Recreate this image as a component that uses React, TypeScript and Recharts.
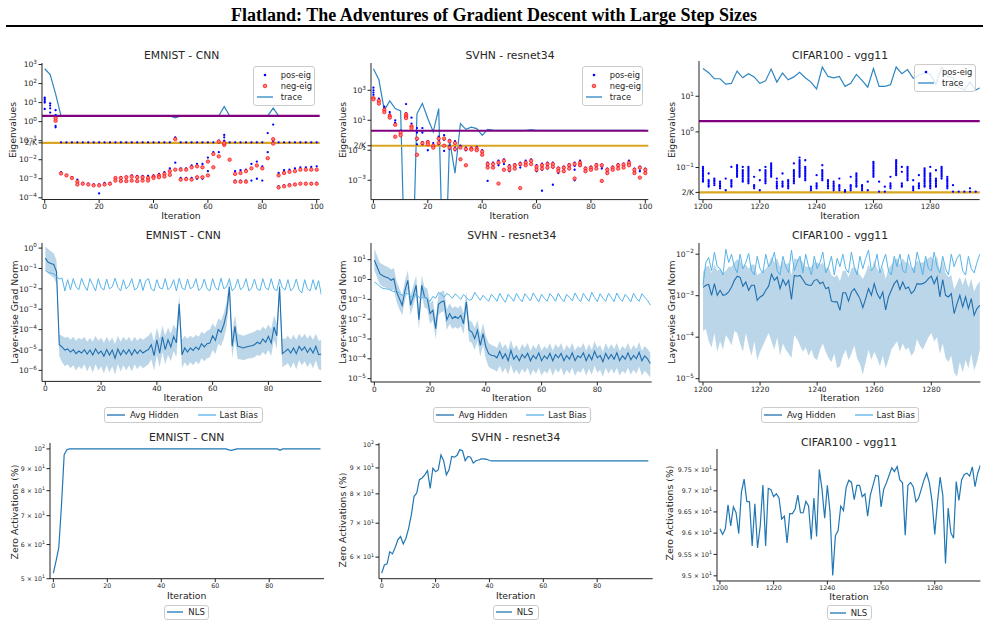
import React from 'react';
import { ComposedChart, Scatter, Line, Area, XAxis, YAxis, ReferenceLine, Legend } from 'recharts';

const FONT = '"DejaVu Sans", sans-serif';
const INK = '#262626';
const AXIS = '#222';
const TRACE = '#2e86c1';
const HID = '#1f6fb0';
const BIAS = '#56b4e9';
const NLS = '#1f77b4';

// ---------------- Top row: eigenvalues ----------------
const emnistEigIters = [0,2,4,6,8,10,12,14,16,18,20,22,24,26,28,30,32,34,36,38,40,42,44,46,48,50,52,54,56,58,60,62,64,66,68,70,72,74,76,78,80,82,84,86,88,90,92,94,96,98,100];
const emnistPosEig = [
  [18,15,12,10,4.6],[9,7,5,3],[4,2.2,0.6,0.5],[0.082,0.0022,0.0019],[0.082,0.0016],[0.082,0.0012],[0.082,0.0009,0.0006],[0.082,0.0006],[0.082,0.00055],[0.082,0.0005],
  [0.082,0.0005,0.00017],[0.082,0.0006],[0.082,0.0006],[0.082,0.0011,0.0008],[0.082,0.0012],[0.082,0.0013,0.0008],[0.082,0.0015,0.0008],[0.082,0.0014,0.0008],[0.082,0.0014,0.0009],[0.082,0.0014],
  [0.082,0.0015],[0.082,0.0018],[0.082,0.0022],[0.082,0.0035],[0.15,0.13,0.007],[0.082,0.0035,0.0011],[0.082,0.0035,0.0011],[0.082,0.005,0.0011],[0.082,0.006,0.001],[0.082,0.006,0.001],
  [0.082,0.013,0.0025],[0.082,0.025],[0.1,0.082,0.025],[0.2,0.15,0.1,0.09],[0.082],[0.082,0.0025,0.0008],[0.082,0.0028,0.0008],[0.082,0.003,0.0008],[0.082,0.006,0.0008],[0.082,0.008,0.001],
  [0.082,0.0045,0.0008],[0.25,0.025],[0.7,0.12,0.1,0.082],[0.082,0.002,0.0004],[0.082,0.0028,0.00045],[0.082,0.003,0.0005],[0.082,0.0035,0.0005],[0.082,0.004,0.00055],[0.082,0.004,0.00055],[0.082,0.0042,0.00058],
  [0.082,0.0045,0.0006],
];
const emnistNegEig = [
  [],[],[1.1,1.5],[0.0019],[0.0015],[0.0011],[0.0007,0.0005],[0.00055],[0.0005],[0.00045],
  [0.00045],[0.0005],[0.00055],[0.0011,0.0008],[0.0011,0.00075],[0.0012,0.00075],[0.0013,0.0008],[0.0012,0.00075],[0.0012,0.0008],[0.0011,0.0008],
  [0.0013,0.0011],[0.0015,0.0012],[0.0018,0.0013],[0.0025,0.0016],[0.12,0.003],[0.003,0.0009],[0.003,0.00095],[0.004,0.0009],[0.0045,0.0012],[0.004,0.0012],
  [0.008,0.0015],[0.02,0.004],[0.09,0.015],[0.06,0.075],[0.01],[0.0018,0.0007],[0.002,0.0007],[0.0025,0.0007],[0.0035],[0.005],
  [0.0035],[0.012],[0.12,0.07],[0.0015,0.00035],[0.002,0.0004],[0.0023,0.00045],[0.0025,0.0005],[0.003,0.00055],[0.003,0.00055],[0.003,0.00055],
  [0.003,0.00055],
];
const emnistTrace = [600,300,29,2,2,2,2,2,2,2, 2,2,2,2,2,2,2,2,2,2, 2,2,2,2,1.6,2,2,2,2,2, 2,2,2,6.3,2,2,2,2,2,2, 2,2,5.1,2,2,2,2,2,2,2, 2];

const svhnEigIters = emnistEigIters;
const svhnPosEig = [
  [1500,1000,700,500],[280,200,150],[80,60,40],[35,25,20],[10,7,6],[2,1.5,1],[120,30,20,15],[15,6,4,3],[3,1.5,0.5,0.25],[3,1.5,0.35,0.25],
  [0.4,0.3,0.1],[0.3,0.15],[0.8,0.5,0.25],[1,0.5,0.2,0.09],[0.5,0.2,0.12],[0.4,0.15,0.1],[0.2],[0.15,0.1],[0.15,0.12],[0.17,0.1],
  [0.1,0.05],[0.015,0.011,0.008,0.0009],[0.015,0.011,0.007],[0.02,0.014,0.01],[0.025,0.018,0.012],[0.01,0.006,0.004],[0.012,0.009,0.006],[0.015,0.01,0.007],[0.02,0.014,0.01],[0.025,0.018,0.012],
  [0.01,0.006,0.004],[0.013,0.008,0.005,0.0002],[0.015,0.01,0.006],[0.015,0.01,0.007,0.0005],[0.007,0.005,0.003],[0.008,0.006,0.004],[0.012,0.009,0.006],[0.015,0.009,0.005,0.001],[0.02,0.013,0.009],[0.007,0.005,0.004],
  [0.008,0.006,0.005],[0.012,0.009,0.006],[0.011,0.008,0.006],[0.006,0.004,0.003],[0.008,0.006,0.005],[0.012,0.009,0.006],[0.013,0.01,0.007],[0.02,0.014,0.01],[0.006,0.004,0.003],[0.008,0.006,0.004],
  [0.006,0.004,0.003],
];
const svhnNegEig = [
  [300,250],[200,130],[50,35],[20,15],[0.8,5],[1.5,1.0],[25,18,14],[4,3],[0.6,0.05],[0.3],
  [0.35,0.25],[0.2,0.15],[0.6,0.3],[0.6,0.2],[0.4,0.15],[0.3,0.12],[0.15,0.025],[0.12,0.01],[0.13,0.11],[0.13,0.1],
  [0.08,0.05],[0.012,0.007],[0.012,0.007],[0.015,0.0006],[0.02,0.005],[0.008,0.005],[0.01,0.006],[0.012,0.0003],[0.015,0.01],[0.02,0.012],
  [0.008,0.005],[0.01,0.006],[0.012,0.007],[0.012,0.008],[0.006,0.004],[0.007,0.004],[0.01,0.006],[0.012,0.0013],[0.015,0.01],[0.006,0.004],
  [0.007,0.005],[0.01,0.006],[0.01,0.0009],[0.005,0.003],[0.007,0.005],[0.01,0.006],[0.011,0.007],[0.015,0.01],[0.005,0.003],[0.007,0.0015],
  [0.005,0.003],
];
// 1e-12 marks a non-positive trace value, clipped below the log axis
const svhnTrace = [27000,5000,47,195,60,42,1e-12,1e-12,27,130, 13,1.7,60,1e-12,0.5,0.003,6,2.5,3.5,2.8, 1,2.5,2.2,2.1,2.1,2.1,2.1,2.1,2.1,2.4, 2.1,2.1,2.1,2.1,2.1,2.1,2.1,2.1,2.1,2.1, 2.1,2.1,2.1,2.1,2.1,2.1,2.1,2.1,2.1,2.1, 2.1];

const cifarEigIters = [1200,1202,1204,1206,1208,1210,1212,1214,1216,1218,1220,1222,1224,1226,1228,1230,1232,1234,1236,1238,1240,1242,1244,1246,1248,1250,1252,1254,1256,1258,1260,1262,1264,1266,1268,1270,1272,1274,1276,1278,1280,1282,1284,1286,1288,1290,1292,1294,1296];
const cifarPosEig = [
  [0.104,0.094,0.084,0.076,0.068,0.061,0.055,0.049,0.044,0.04],[0.068,0.044,0.04,0.036,0.032,0.029],[0.049,0.044,0.04,0.036,0.032],[0.04,0.036,0.032,0.029,0.026],[0.049,0.023],
  [0.104,0.044,0.04,0.036,0.032,0.029],[0.116,0.104,0.094,0.084,0.076,0.068,0.061,0.055],[0.104,0.084,0.076,0.068,0.061,0.055,0.049,0.044,0.04],[0.104,0.094,0.084,0.076,0.068,0.061,0.055,0.049,0.044,0.04,0.036],[0.055,0.032,0.029,0.026],
  [0.084,0.044,0.023],[0.104,0.084,0.076,0.068,0.061,0.055,0.049,0.044,0.04,0.036],[0.13,0.116,0.104,0.094,0.084,0.076,0.068,0.061,0.055],[0.049,0.04,0.036,0.032,0.029,0.026],[0.068,0.04,0.036,0.032,0.029],
  [0.044,0.04,0.036,0.032,0.029,0.026],[0.13,0.084,0.076,0.068,0.061,0.055,0.049,0.044,0.04,0.036],[0.19,0.16,0.144,0.13,0.116,0.104,0.094,0.084,0.076,0.068,0.061,0.055],[0.16,0.104,0.094,0.084,0.076,0.068,0.061,0.055,0.049,0.044],[0.029,0.026,0.023],
  [0.061,0.036,0.032,0.029,0.026],[0.116,0.084,0.076,0.068,0.061,0.055,0.049,0.044],[0.044,0.04,0.036,0.032,0.029,0.026],[0.04,0.036,0.032,0.029,0.026,0.023],[0.049,0.032,0.029,0.026,0.023],
  [0.023,0.021],[0.055,0.032,0.029,0.026,0.023],[0.068,0.061,0.055,0.049,0.044,0.04,0.036,0.032,0.029],[0.032,0.029,0.026,0.023],[0.04,0.023],
  [0.144,0.13,0.116,0.104,0.094,0.084,0.076,0.068,0.061,0.055],[0.04,0.021],[0.029,0.021],[0.055,0.036,0.032,0.029,0.026],[0.16,0.144,0.13,0.116,0.104,0.094,0.084,0.076,0.068,0.061],
  [0.104,0.076,0.036,0.032,0.029],[0.104,0.094,0.084,0.076,0.068,0.061,0.055,0.049,0.044],[0.044,0.029,0.026,0.023],[0.061,0.036,0.032,0.029,0.026],[0.094,0.084,0.076,0.068,0.061,0.055,0.049,0.044,0.04,0.036,0.032,0.029],
  [0.104,0.068,0.061,0.055,0.049,0.044,0.04,0.036,0.032,0.029,0.026],[0.084,0.049,0.044,0.04,0.036,0.032,0.029],[0.104,0.094,0.084,0.076,0.068,0.061,0.055,0.049],[0.055,0.049,0.044,0.04,0.036,0.032,0.029,0.026],[0.032,0.021],
  [0.021],[0.021],[0.026,0.021],[0.021],
];
const cifarTraceIters = [1200,1202,1204,1206,1208,1210,1212,1214,1216,1218,1220,1222,1224,1226,1228,1230,1232,1234,1236,1238,1240,1242,1244,1246,1248,1250,1252,1254,1256,1258,1260,1262,1264,1266,1268,1270,1272,1274,1276,1278,1280,1282,1284,1286,1288,1290,1292,1294,1296,1298];
const cifarTrace = [60,46,31,31,22,23,51,33,43,35, 23,27,58,25,45,29,35,47,33,25, 16,66,36,33,36,19,23,41,28,18, 60,19,19,21,66,43,56,32,39,45, 42,22,66,36,33,18,15,25,15,18];

// ---------------- Middle row: layer-wise grad norm (log10 of values) ----------------
const emnistHiddenExp = [-0.49,-0.70,-0.76,-0.80,-1.15,-4.74,-4.85,-5.00,-4.95,-5.10,-4.98,-5.18,-5.05,-5.15,-4.98,-5.20,-5.00,-5.25,-4.95,-5.18,-5.05,-5.30,-4.98,-5.25,-5.00,-5.40,-4.95,-5.25,-5.00,-5.20,-4.98,-5.25,-4.98,-5.18,-5.00,-5.15,-5.05,-4.98,-4.74,-5.28,-4.50,-5.15,-4.36,-4.98,-4.50,-4.85,-4.33,-4.65,-2.73,-5.23,-4.90,-5.10,-4.90,-5.02,-4.85,-4.98,-4.69,-4.85,-4.69,-4.66,-4.30,-4.53,-4.00,-4.13,-3.76,-3.19,-1.90,-4.82,-3.84,-4.82,-4.85,-4.90,-4.85,-4.82,-4.79,-4.74,-4.62,-4.69,-4.46,-4.62,-4.33,-4.66,-3.87,-4.30,-1.90,-5.18,-5.07,-4.95,-5.15,-4.90,-5.18,-4.82,-5.02,-4.85,-5.12,-4.90,-5.15,-4.82,-5.23,-5.20];
const emnistHiddenHiExp = [0.08,-0.05,-0.15,-0.25,-0.6,-4.25,-4.3,-4.4,-4.35,-4.5,-4.35,-4.55,-4.4,-4.5,-4.35,-4.6,-4.4,-4.6,-4.3,-4.55,-4.4,-4.65,-4.35,-4.6,-4.4,-4.7,-4.3,-4.6,-4.35,-4.55,-4.35,-4.6,-4.35,-4.55,-4.4,-4.5,-4.4,-4.3,-4.1,-4.6,-3.9,-4.45,-3.8,-4.3,-3.9,-4.2,-3.75,-4.0,-2.3,-4.5,-4.3,-4.45,-4.3,-4.4,-4.25,-4.35,-4.1,-4.2,-4.05,-4.0,-3.7,-3.9,-3.45,-3.55,-3.2,-2.65,-1.5,-4.1,-3.3,-4.2,-4.25,-4.3,-4.25,-4.2,-4.15,-4.1,-4.0,-4.05,-3.85,-4.0,-3.75,-4.0,-3.3,-3.7,-1.5,-4.45,-4.45,-4.3,-4.5,-4.25,-4.5,-4.2,-4.4,-4.2,-4.45,-4.25,-4.5,-4.2,-4.55,-4.5];
const emnistHiddenLoExp = [-1.05,-1.25,-1.35,-1.45,-1.75,-5.3,-5.6,-5.8,-5.7,-5.9,-5.75,-6.0,-5.8,-5.95,-5.7,-6.05,-5.75,-6.1,-5.7,-6.0,-5.8,-6.15,-5.75,-6.1,-5.8,-6.2,-5.7,-6.05,-5.75,-6.0,-5.75,-6.05,-5.7,-5.95,-5.75,-5.9,-5.8,-5.7,-5.45,-6.0,-5.25,-5.85,-5.1,-5.7,-5.25,-5.55,-5.05,-5.35,-3.3,-5.9,-5.6,-5.8,-5.6,-5.75,-5.55,-5.7,-5.4,-5.55,-5.4,-5.35,-5.0,-5.2,-4.7,-4.8,-4.45,-3.85,-2.5,-5.4,-4.5,-5.45,-5.45,-5.5,-5.45,-5.4,-5.4,-5.35,-5.25,-5.3,-5.1,-5.25,-5.0,-5.3,-4.5,-4.95,-2.5,-5.85,-5.75,-5.65,-5.9,-5.6,-5.95,-5.5,-5.75,-5.55,-5.85,-5.6,-5.9,-5.5,-5.95,-6.0];
const emnistBiasExp = [-1.1,-1.19,-1.23,-1.26,-1.39,-1.52,-1.47,-2.1,-1.55,-2.05,-1.5,-1.9,-2.05,-1.48,-1.85,-2.08,-1.5,-1.8,-2.1,-1.5,-1.95,-2.05,-1.52,-2.0,-1.9,-1.48,-1.92,-2.1,-1.55,-2.0,-1.85,-1.5,-2.05,-1.95,-1.52,-2.08,-1.6,-1.5,-2.0,-2.1,-1.55,-1.95,-2.0,-1.5,-2.05,-1.9,-1.55,-2.1,-1.48,-1.95,-2.05,-1.52,-2.0,-1.9,-1.5,-2.08,-1.95,-1.52,-2.0,-2.1,-1.5,-1.95,-2.05,-1.48,-2.0,-1.9,-1.5,-2.1,-1.95,-1.52,-2.05,-1.9,-1.5,-2.1,-1.95,-1.52,-2.0,-2.08,-1.5,-1.95,-2.05,-1.5,-2.0,-2.1,-1.52,-1.95,-2.05,-1.55,-2.1,-1.95,-1.52,-2.05,-2.2,-1.55,-2.0,-2.1,-1.55,-2.05,-1.6,-2.3];

const svhnHiddenExp = [0.97,0.63,0.29,0.19,0.13,0.08,-0.04,0.04,-0.63,-0.97,-1.3,-0.55,-0.04,-1.3,-0.8,-0.29,-2.03,-0.29,-0.88,-0.97,-1.72,-1.55,-2.48,-1.25,-1.13,-1.08,-2.03,-1.72,-1.97,-1.86,-1.97,-1.81,-2.23,-1.13,-2.56,-2.65,-2.98,-2.56,-3.32,-2.73,-3.4,-3.74,-3.82,-3.85,-3.95,-3.62,-3.98,-3.75,-4.1,-3.57,-4.02,-3.83,-4.1,-3.78,-3.95,-3.72,-4.1,-3.83,-4.0,-3.7,-4.1,-3.85,-4.0,-3.73,-4.1,-3.78,-3.95,-3.73,-4.1,-3.83,-4.02,-3.7,-4.1,-3.85,-3.95,-3.7,-4.1,-3.78,-4.05,-3.62,-3.95,-3.83,-4.15,-3.73,-4.0,-3.78,-4.02,-3.7,-4.1,-3.85,-4.02,-3.7,-4.05,-3.83,-4.0,-3.67,-4.1,-3.85,-4.0,-4.24];
const svhnHiddenHiExp = [1.55,1.2,0.85,0.75,0.68,0.62,0.5,0.58,-0.1,-0.45,-0.8,-0.05,0.45,-0.8,-0.3,0.2,-1.5,0.2,-0.38,-0.45,-1.2,-1.05,-1.95,-0.72,-0.6,-0.55,-1.5,-1.2,-1.45,-1.35,-1.45,-1.3,-1.7,-0.6,-2.05,-2.15,-2.45,-2.05,-2.8,-2.2,-2.85,-3.2,-3.3,-3.35,-3.45,-3.1,-3.45,-3.25,-3.55,-3.05,-3.5,-3.3,-3.6,-3.25,-3.45,-3.2,-3.6,-3.3,-3.5,-3.2,-3.6,-3.35,-3.5,-3.2,-3.6,-3.25,-3.45,-3.2,-3.6,-3.3,-3.5,-3.2,-3.6,-3.35,-3.45,-3.2,-3.6,-3.25,-3.55,-3.1,-3.45,-3.3,-3.65,-3.2,-3.5,-3.25,-3.5,-3.2,-3.6,-3.35,-3.5,-3.2,-3.55,-3.3,-3.5,-3.15,-3.6,-3.35,-3.5,-3.7];
const svhnHiddenLoExp = [0.45,0.1,-0.25,-0.35,-0.4,-0.45,-0.55,-0.5,-1.15,-1.5,-1.8,-1.05,-0.55,-1.8,-1.3,-0.8,-2.55,-0.8,-1.4,-1.5,-2.25,-2.05,-3.0,-1.8,-1.65,-1.6,-2.55,-2.25,-2.5,-2.4,-2.5,-2.35,-2.75,-1.65,-3.1,-3.2,-3.55,-3.1,-3.9,-3.3,-4.0,-4.4,-4.5,-4.55,-4.65,-4.35,-4.7,-4.45,-4.8,-4.3,-4.75,-4.55,-4.8,-4.5,-4.7,-4.45,-4.85,-4.55,-4.75,-4.45,-4.85,-4.6,-4.75,-4.45,-4.85,-4.5,-4.7,-4.45,-4.85,-4.55,-4.75,-4.45,-4.85,-4.6,-4.7,-4.45,-4.85,-4.5,-4.8,-4.35,-4.7,-4.55,-4.9,-4.45,-4.75,-4.5,-4.75,-4.45,-4.85,-4.6,-4.75,-4.45,-4.8,-4.55,-4.75,-4.4,-4.85,-4.6,-4.75,-4.95];
const svhnBiasExp = [-0.13,-0.22,-0.35,-0.45,-0.47,-0.48,-0.55,-0.62,-0.55,-0.7,-0.8,-0.75,-0.7,-0.85,-0.95,-0.7,-0.9,-0.95,-0.85,-1.0,-1.1,-0.85,-0.95,-0.65,-0.75,-0.9,-0.7,-0.8,-0.95,-0.72,-0.85,-1.0,-0.75,-0.9,-1.05,-1.0,-0.65,-0.85,-1.05,-0.8,-0.95,-1.1,-0.75,-0.9,-1.1,-0.7,-0.95,-1.15,-0.75,-0.9,-1.1,-0.7,-0.95,-1.12,-0.72,-0.9,-1.08,-0.68,-0.92,-1.12,-0.75,-0.95,-1.1,-0.72,-0.88,-1.1,-0.7,-0.95,-1.12,-0.75,-0.9,-1.08,-0.68,-0.95,-1.12,-0.7,-0.92,-1.1,-0.65,-0.9,-1.12,-0.72,-0.95,-1.1,-0.7,-0.9,-1.12,-0.68,-0.95,-1.1,-0.75,-0.92,-1.12,-0.7,-0.95,-1.1,-0.72,-0.9,-1.05,-1.3];

const cifarHiddenExp = [-2.80,-2.75,-2.73,-2.99,-2.71,-2.99,-2.87,-2.99,-2.97,-2.91,-2.79,-2.63,-2.53,-2.56,-2.77,-2.67,-2.87,-2.75,-2.75,-3.11,-3.03,-2.99,-2.87,-2.77,-2.48,-2.63,-2.55,-2.83,-2.61,-2.75,-2.63,-3.09,-2.51,-2.53,-2.51,-2.61,-2.72,-2.75,-2.75,-2.63,-2.61,-2.71,-2.67,-2.83,-2.80,-3.13,-3.15,-3.15,-3.35,-2.93,-2.93,-3.13,-2.91,-2.83,-2.95,-3.07,-3.29,-3.07,-2.83,-2.99,-2.71,-2.95,-3.07,-2.91,-3.34,-3.03,-2.87,-2.71,-2.63,-2.85,-2.67,-2.83,-2.79,-2.95,-2.88,-2.71,-2.72,-2.71,-2.67,-2.59,-2.53,-2.71,-2.55,-3.03,-2.61,-2.99,-3.03,-2.95,-3.43,-3.19,-2.99,-3.27,-3.03,-3.31,-3.07,-3.47,-3.31,-3.23];
const cifarHiddenHiExp = [-2.43,-2.3,-2.28,-2.45,-2.25,-2.4,-2.35,-2.45,-2.4,-2.3,-2.3,-2.2,-2.12,-2.15,-2.3,-2.25,-2.35,-2.25,-2.25,-2.5,-2.45,-2.4,-2.35,-2.25,-2.05,-2.2,-2.1,-2.3,-2.15,-2.25,-2.2,-2.5,-2.1,-2.12,-2.1,-2.2,-2.3,-2.3,-2.3,-2.2,-2.2,-2.25,-2.2,-2.35,-2.3,-2.5,-2.55,-2.5,-2.65,-2.4,-2.4,-2.55,-2.35,-2.3,-2.4,-2.5,-2.6,-2.45,-2.25,-2.4,-2.15,-2.35,-2.45,-2.3,-2.6,-2.35,-2.25,-2.15,-2.1,-2.25,-2.1,-2.2,-2.2,-2.35,-2.3,-2.15,-2.2,-2.2,-2.15,-2.1,-2.05,-2.15,-2.05,-2.4,-2.15,-2.45,-2.55,-2.5,-2.85,-2.7,-2.55,-2.75,-2.55,-2.8,-2.6,-2.9,-2.75,-2.65];
const cifarHiddenLoExp = [-3.85,-3.8,-4.1,-4.25,-3.9,-4.35,-4.1,-4.3,-3.95,-4.05,-4.2,-3.85,-3.9,-4.15,-4.35,-3.9,-4.2,-4.45,-4.1,-4.55,-4.35,-4.2,-4.05,-3.9,-4.1,-4.3,-4.0,-4.45,-4.15,-4.3,-4.4,-4.5,-3.95,-4.05,-4.2,-4.35,-4.25,-4.45,-4.3,-4.5,-4.55,-4.3,-4.15,-4.35,-4.5,-4.6,-4.4,-4.75,-4.7,-4.45,-4.3,-4.55,-4.4,-4.2,-4.5,-4.65,-4.9,-4.6,-4.3,-4.55,-4.35,-4.5,-4.7,-4.45,-4.75,-4.55,-4.3,-4.2,-4.1,-4.35,-4.15,-4.3,-4.25,-4.45,-4.35,-4.05,-4.2,-4.3,-4.15,-4.0,-3.9,-4.1,-4.0,-4.4,-4.15,-4.5,-4.6,-4.45,-4.85,-4.95,-4.6,-4.85,-4.55,-4.75,-4.4,-4.8,-4.6,-4.3];
const cifarBiasExp = [-2.75,-2.2,-2.08,-2.4,-1.95,-2.3,-2.35,-2.5,-1.88,-2.2,-2.0,-2.3,-2.45,-2.0,-2.35,-2.2,-1.98,-2.4,-2.5,-2.05,-2.35,-2.45,-2.0,-2.3,-2.2,-1.95,-2.4,-2.5,-2.05,-2.3,-2.45,-1.9,-2.4,-2.2,-2.05,-2.45,-2.0,-2.3,-2.5,-2.05,-2.35,-2.2,-1.95,-2.45,-2.3,-2.05,-2.5,-2.1,-2.3,-2.0,-2.35,-2.45,-1.95,-2.3,-2.5,-2.05,-2.35,-2.1,-1.9,-2.4,-2.3,-2.0,-2.45,-2.2,-2.0,-2.4,-2.5,-2.05,-2.3,-2.0,-2.4,-2.45,-2.0,-2.3,-2.45,-1.95,-2.2,-2.5,-2.05,-2.35,-2.4,-1.95,-2.3,-2.45,-2.05,-2.35,-2.5,-2.0,-2.3,-2.1,-2.0,-2.4,-2.5,-2.05,-2.35,-2.45,-2.2,-2.0];

// ---------------- Bottom row: zero activations (%) ----------------
const emnistNls = [51.5,55,59,74,97,99.6,100,100,100,100, 100,100,100,100,100,100,100,100,100,100, 100,100,100,100,100,100,100,100,100,100, 100,100,100,100,100,100,100,100,100,100, 100,100,100,100,100,100,100,100,100,100, 100,100,100,100,100,100,100,100,100,100, 100,100,100,100,100,99.5,99.2,99.6,100,100, 100,100,100,100,100,100,100,100,100,100, 100,100,100,100,99.3,100,100,100,100,100, 100,100,100,100,100,100,100,100,100,100];
const svhnNls = [55.8,57.9,58.2,61.5,60.9,62.7,64.9,65.9,63.7,65.4, 68.4,72.7,79,80.3,85.3,86,87.2,88.9,82,89.9, 88.5,89.2,95.5,93,87.2,89.2,94.8,94.5,95.3,97.8, 97.3,93,94.8,94.5,92,93,93.3,93.8,93.8,93.6, 93.1,92.9,92.9,92.9,92.9,92.9,92.9,92.9,92.9,92.9, 92.9,92.9,92.9,92.9,92.9,92.9,92.9,92.9,92.9,92.9, 92.9,92.9,92.9,92.9,92.9,92.9,92.9,92.9,92.9,92.9, 92.9,92.9,92.9,92.9,92.9,92.9,92.9,92.9,92.9,92.9, 92.9,92.9,92.9,92.9,92.9,92.9,92.9,92.9,92.9,92.9, 92.9,92.9,92.9,92.9,92.9,92.9,92.9,92.9,92.9,92.9];
const cifarNls = [96.1,95.97,96.1,96.67,96.17,96.62,96.48,95.99,96.97,97.28, 96.75,96.74,95.7,96.69,95.65,96.17,97.14,95.7,97.06,97.03, 96.86,96.93,96.83,96.33,96.4,95.77,96.46,96.46,96.57,96.9, 96.48,96.48,96.75,96.64,95.85,96.83,95.92,97.51,97.04,96.35, 97.13,96.5,95.01,95.94,96.06,96.64,96.53,97.08,97.25,97.2, 96.79,97.13,97.13,96.86,96.93,96.4,96.9,97.13,97.37,97.35, 96.62,97.04,97.19,97.37,97.55,97.46,97.58,97.26,97.19,95.95, 97.13,97.2,97.1,96.74,96.83,97.04,97.26,97.42,97.19,96.75, 95.97,96.72,97.33,96.9,95.29,96.59,96.01,95.88,97.22,96.77, 97.26,97.39,97.42,97.35,97.57,97.1,97.42,97.61];

// ---------------- tick labels ----------------
const xTicks100 = [0, 20, 40, 60, 80, 100];
const xTicks80 = [0, 20, 40, 60, 80];
const xTicksCifar = [1200, 1220, 1240, 1260, 1280];
const emnistEigTickExps = [3, 2, 1, 0, -1, -2, -3, -4];
const svhnEigTickExps = [3, 1, -1, -3];
const cifarEigTickExps = [1, 0, -1];
const emnistGradTickExps = [0, -1, -2, -3, -4, -5, -6];
const svhnGradTickExps = [1, 0, -1, -2, -3, -4, -5];
const cifarGradTickExps = [-2, -3, -4, -5];
const emnistNlsTicks = [50, 60, 70, 80, 90, 100];
const svhnNlsTicks = [60, 70, 80, 90, 100];
const cifarNlsTicks = [95, 95.5, 96, 96.5, 97, 97.5];
const classes = { emnist: 26, svhn: 10, cifar: 100 };

// ---------------- helpers ----------------
const p10 = (e: number) => Math.pow(10, e);
const toPoints = (iters: number[], lists: number[][]) =>
  iters.flatMap((x, i) => (lists[i] || []).map((y) => ({ x, y })));
const toSeries = (iters: number[], vals: number[]) => iters.map((x, i) => ({ x, y: vals[i] }));
const gradRows = (start: number, hid: number[], lo: number[], hi: number[], bias: number[]) =>
  hid.map((h, i) => ({ x: start + i, hid: p10(h), band: [p10(lo[i]), p10(hi[i])], bias: p10(bias[i]) }));
const nlsRows = (start: number, vals: number[]) => vals.map((v, i) => ({ x: start + i, y: v }));

const YW = 40, MT = 6, MR = 6, XH = 16, MB = 46;
type Rect = { x0: number; y0: number; x1: number; y1: number };
const frameOf = (r: Rect) => ({
  left: r.x0 - YW,
  top: r.y0 - MT,
  width: r.x1 - r.x0 + YW + MR,
  height: r.y1 - r.y0 + MT + XH + MB,
});

const sup = (e: number) => (e < 0 ? '\u2212' + Math.abs(e) : String(e));
const makePowTick = (fs: number, special?: { v: number; label: string }) => (p: any) => {
  const v = p.payload.value;
  const common = { x: p.x, y: p.y, textAnchor: 'end' as const, fontSize: fs, fill: INK, fontFamily: FONT };
  if (special && Math.abs(v - special.v) / special.v < 1e-6) {
    return <text {...common} dy={fs * 0.35}>{special.label}</text>;
  }
  const e = Math.round(Math.log10(v));
  return (
    <text {...common} dy={fs * 0.35}>
      10<tspan dy={-fs * 0.45} fontSize={fs * 0.75}>{sup(e)}</tspan>
    </text>
  );
};
const makeManTick = (fs: number) => (p: any) => {
  const v = p.payload.value;
  const e = Math.floor(Math.log10(v) + 1e-9);
  const m = +(v / Math.pow(10, e)).toFixed(3);
  return (
    <text x={p.x} y={p.y} dy={fs * 0.35} textAnchor="end" fontSize={fs} fill={INK} fontFamily={FONT}>
      {m === 1 ? '' : `${m} \u00d7 `}10<tspan dy={-fs * 0.45} fontSize={fs * 0.75}>{e}</tspan>
    </text>
  );
};

const xAxisEl = (domain: number[], ticks: number[], fs: number) => (
  <XAxis
    type="number"
    dataKey="x"
    domain={domain}
    ticks={ticks}
    allowDataOverflow
    interval={0}
    height={XH}
    tickSize={3.5}
    tickMargin={1}
    tick={{ fontSize: fs, fill: INK, fontFamily: FONT }}
    axisLine={{ stroke: AXIS, strokeWidth: 1 }}
    tickLine={{ stroke: AXIS }}
  />
);
const yAxisEl = (domain: number[], ticks: number[], tick: any, dataKey?: string) => (
  <YAxis
    type="number"
    scale="log"
    dataKey={dataKey}
    domain={domain}
    ticks={ticks}
    allowDataOverflow
    interval={0}
    width={YW}
    tickSize={3.5}
    tickMargin={1.5}
    tick={tick}
    axisLine={{ stroke: AXIS, strokeWidth: 1 }}
    tickLine={{ stroke: AXIS }}
  />
);

type Box = { x: number; y: number; w: number; h: number };
const legendEl = (f: { left: number; top: number }, b: Box, node: React.ReactNode) => (
  <Legend
    layout="horizontal"
    verticalAlign="middle"
    align="center"
    content={() => node}
    wrapperStyle={{ left: b.x - f.left, top: b.y - f.top, width: b.w, height: b.h }}
  />
);

const boxStyle: React.CSSProperties = {
  width: '100%',
  height: '100%',
  boxSizing: 'border-box',
  border: '1px solid #cccccc',
  borderRadius: 3,
  background: 'rgba(255,255,255,0.82)',
  fontFamily: FONT,
  color: INK,
  whiteSpace: 'nowrap',
  overflow: 'visible',
};
const BlueMark = () => (<svg width={16} height={8} style={{ flexShrink: 0 }}><circle cx={8} cy={4} r={1.3} fill="#0000ff" /></svg>);
const RedMark = () => (<svg width={16} height={8} style={{ flexShrink: 0 }}><circle cx={8} cy={4} r={1.8} fill="#ff8080" stroke="#ff0000" strokeWidth={0.7} /></svg>);
const LineMark = ({ color, w = 16 }: { color: string; w?: number }) => (
  <svg width={w} height={8} style={{ flexShrink: 0 }}><line x1={0} y1={4} x2={w} y2={4} stroke={color} strokeWidth={1.3} /></svg>
);

const EigLegend = ({ withNeg }: { withNeg: boolean }) => {
  const rows: [React.ReactNode, string][] = [[<BlueMark />, 'pos-eig']];
  if (withNeg) rows.push([<RedMark />, 'neg-eig']);
  rows.push([<LineMark color={TRACE} />, 'trace']);
  return (
    <div style={{ ...boxStyle, fontSize: 8.3, padding: '2px 2px 2px 3px', display: 'flex', flexDirection: 'column', justifyContent: 'space-around' }}>
      {rows.map(([m, t], i) => (
        <div key={i} style={{ display: 'flex', alignItems: 'center', lineHeight: '10px', whiteSpace: 'nowrap' }}>
          {m}<span style={{ marginLeft: 8, whiteSpace: 'nowrap' }}>{t}</span>
        </div>
      ))}
    </div>
  );
};
const GradLegend = () => (
  <div style={{ ...boxStyle, fontSize: 8.5, display: 'flex', alignItems: 'center', padding: '0 2px' }}>
    <LineMark color={HID} w={18} /><span style={{ marginLeft: 5, whiteSpace: 'nowrap' }}>Avg Hidden</span>
    <span style={{ marginLeft: 19, flexShrink: 0 }} /><LineMark color={BIAS} w={18} /><span style={{ marginLeft: 4, whiteSpace: 'nowrap' }}>Last Bias</span>
  </div>
);
const NlsLegend = () => (
  <div style={{ ...boxStyle, fontSize: 8.5, display: 'flex', alignItems: 'center', padding: '0 2px' }}>
    <LineMark color={NLS} w={16} /><span style={{ marginLeft: 5, whiteSpace: 'nowrap' }}>NLS</span>
  </div>
);

const BlueDot = (p: any) => <circle cx={p.cx} cy={p.cy} r={1.15} fill="#0000ff" />;
const RedDot = (p: any) => <circle cx={p.cx} cy={p.cy} r={1.7} fill="#ff8080" stroke="#ff0000" strokeWidth={0.7} />;

// ---------------- panels ----------------
type EigProps = {
  r: Rect; xDomain: number[]; xTicks: number[]; yDomain: number[]; tickExps: number[]; K: number;
  pos: { x: number; y: number }[]; neg?: { x: number; y: number }[]; trace: { x: number; y: number }[]; box: Box;
};
function EigPanel({ r, xDomain, xTicks, yDomain, tickExps, K, pos, neg, trace, box }: EigProps) {
  const f = frameOf(r);
  const twoK = 2 / K;
  const ticks = [...tickExps.map(p10), twoK];
  return (
    <div style={{ position: 'absolute', left: f.left, top: f.top }}>
      <ComposedChart width={f.width} height={f.height} margin={{ top: MT, right: MR, bottom: MB, left: 0 }}>
        {xAxisEl(xDomain, xTicks, 7.4)}
        {yAxisEl(yDomain, ticks, makePowTick(7.6, { v: twoK, label: '2/K' }), 'y')}
        <Scatter data={pos} dataKey="y" fill="#0000ff" shape={BlueDot} isAnimationActive={false} />
        {neg ? <Scatter data={neg} dataKey="y" fill="#ff0000" shape={RedDot} isAnimationActive={false} /> : null}
        <Line data={trace} dataKey="y" type="linear" stroke={TRACE} strokeWidth={1.2} dot={false} isAnimationActive={false} />
        <ReferenceLine y={twoK} stroke="#DAA520" strokeWidth={2.2} />
        <ReferenceLine y={2} stroke="#800080" strokeWidth={2.2} />
        {legendEl(f, box, <EigLegend withNeg={!!neg} />)}
      </ComposedChart>
    </div>
  );
}

type GradProps = { r: Rect; xDomain: number[]; xTicks: number[]; yDomain: number[]; tickExps: number[]; rows: any[]; box: Box };
function GradPanel({ r, xDomain, xTicks, yDomain, tickExps, rows, box }: GradProps) {
  const f = frameOf(r);
  return (
    <div style={{ position: 'absolute', left: f.left, top: f.top }}>
      <ComposedChart width={f.width} height={f.height} data={rows} margin={{ top: MT, right: MR, bottom: MB, left: 0 }}>
        {xAxisEl(xDomain, xTicks, 7.4)}
        {yAxisEl(yDomain, tickExps.map(p10), makePowTick(7.6))}
        <Area dataKey="band" type="linear" stroke="none" fill="#1f77b4" fillOpacity={0.3} isAnimationActive={false} />
        <Line dataKey="hid" type="linear" stroke={HID} strokeWidth={1.1} dot={false} isAnimationActive={false} />
        <Line dataKey="bias" type="linear" stroke={BIAS} strokeWidth={1} dot={false} isAnimationActive={false} />
        {legendEl(f, box, <GradLegend />)}
      </ComposedChart>
    </div>
  );
}

type NlsProps = { r: Rect; xDomain: number[]; xTicks: number[]; yDomain: number[]; yTicks: number[]; rows: any[]; box: Box };
function NlsPanel({ r, xDomain, xTicks, yDomain, yTicks, rows, box }: NlsProps) {
  const f = frameOf(r);
  return (
    <div style={{ position: 'absolute', left: f.left, top: f.top }}>
      <ComposedChart width={f.width} height={f.height} data={rows} margin={{ top: MT, right: MR, bottom: MB, left: 0 }}>
        {xAxisEl(xDomain, xTicks, 6.3)}
        {yAxisEl(yDomain, yTicks, makeManTick(6.3))}
        <Line dataKey="y" type="linear" stroke={NLS} strokeWidth={1.2} dot={false} isAnimationActive={false} />
        {legendEl(f, box, <NlsLegend />)}
      </ComposedChart>
    </div>
  );
}

const Txt = ({ x, y, size, rot, children }: { x: number; y: number; size: number; rot?: boolean; children: React.ReactNode }) => (
  <div
    style={{
      position: 'absolute', left: x, top: y,
      transform: `translate(-50%, -50%)${rot ? ' rotate(-90deg)' : ''}`,
      fontSize: size, lineHeight: 1, whiteSpace: 'nowrap', color: INK, fontFamily: FONT,
    }}
  >
    {children}
  </div>
);

export default function App() {
  const emnistGrad = gradRows(0, emnistHiddenExp, emnistHiddenLoExp, emnistHiddenHiExp, emnistBiasExp);
  const svhnGrad = gradRows(0, svhnHiddenExp, svhnHiddenLoExp, svhnHiddenHiExp, svhnBiasExp);
  const cifarGrad = gradRows(1200, cifarHiddenExp, cifarHiddenLoExp, cifarHiddenHiExp, cifarBiasExp);

  const titles = ['EMNIST - CNN', 'SVHN - resnet34', 'CIFAR100 - vgg11'];
  const TS = 10.8, LS = 9.3;

  return (
    <div style={{ position: 'absolute', left: 0, top: 0, width: 988, height: 627, background: '#fff', overflow: 'hidden', fontFamily: FONT }}>
      <div style={{ position: 'absolute', left: 0, top: 5, width: 988, textAlign: 'center', fontFamily: '"Liberation Serif", serif', fontWeight: 'bold', fontSize: 18, lineHeight: '20px', color: '#000' }}>
        Flatland: The Adventures of Gradient Descent with Large Step Sizes
      </div>
      <div style={{ position: 'absolute', left: 6, top: 25, width: 977, height: 2, background: '#000' }} />

      {/* Row 1 */}
      <EigPanel
        r={{ x0: 42.3, y0: 62.5, x1: 320, y1: 199 }} xDomain={[-1, 101.1]} xTicks={xTicks100}
        yDomain={[p10(-4.09), p10(3.08)]} tickExps={emnistEigTickExps} K={classes.emnist}
        pos={toPoints(emnistEigIters, emnistPosEig)} neg={toPoints(emnistEigIters, emnistNegEig)}
        trace={toSeries(emnistEigIters, emnistTrace)} box={{ x: 252.7, y: 66, w: 62.3, h: 40 }}
      />
      <EigPanel
        r={{ x0: 371, y0: 62.7, x1: 648.3, y1: 199.3 }} xDomain={[-0.9, 101.1]} xTicks={xTicks100}
        yDomain={[p10(-4.29), p10(4.82)]} tickExps={svhnEigTickExps} K={classes.svhn}
        pos={toPoints(svhnEigIters, svhnPosEig)} neg={toPoints(svhnEigIters, svhnNegEig)}
        trace={toSeries(svhnEigIters, svhnTrace)} box={{ x: 581.7, y: 66, w: 61.3, h: 40 }}
      />
      <EigPanel
        r={{ x0: 699.3, y0: 60.7, x1: 980, y1: 199.3 }} xDomain={[1198.6, 1297.4]} xTicks={xTicksCifar}
        yDomain={[p10(-1.9), p10(1.99)]} tickExps={cifarEigTickExps} K={classes.cifar}
        pos={toPoints(cifarEigIters, cifarPosEig)}
        trace={toSeries(cifarTraceIters, cifarTrace)} box={{ x: 914, y: 64, w: 62, h: 27.7 }}
      />

      {/* Row 2 */}
      <GradPanel
        r={{ x0: 42.3, y0: 243.3, x1: 321.7, y1: 381.7 }} xDomain={[-1.2, 99]} xTicks={xTicks80}
        yDomain={[p10(-6.54), p10(0.25)]} tickExps={emnistGradTickExps} rows={emnistGrad}
        box={{ x: 104, y: 406.7, w: 159, h: 16.6 }}
      />
      <GradPanel
        r={{ x0: 371, y0: 242.7, x1: 651.7, y1: 381.7 }} xDomain={[-1.2, 99.5]} xTicks={xTicks80}
        yDomain={[p10(-5.17), p10(1.84)]} tickExps={svhnGradTickExps} rows={svhnGrad}
        box={{ x: 432.7, y: 406.7, w: 158.3, h: 16.6 }}
      />
      <GradPanel
        r={{ x0: 699.3, y0: 242.7, x1: 980.7, y1: 381.7 }} xDomain={[1198.6, 1297.2]} xTicks={xTicksCifar}
        yDomain={[p10(-5.08), p10(-1.73)]} tickExps={cifarGradTickExps} rows={cifarGrad}
        box={{ x: 761, y: 406.7, w: 158.3, h: 16.6 }}
      />

      {/* Row 3 */}
      <NlsPanel
        r={{ x0: 50, y0: 443.3, x1: 324, y1: 579 }} xDomain={[-1.25, 100.3]} xTicks={xTicks80}
        yDomain={[50, 103.2]} yTicks={emnistNlsTicks} rows={nlsRows(0, emnistNls)}
        box={{ x: 164.3, y: 605, w: 45, h: 15 }}
      />
      <NlsPanel
        r={{ x0: 379, y0: 443.3, x1: 652.7, y1: 579 }} xDomain={[-1, 100.6]} xTicks={xTicks80}
        yDomain={[54.4, 100.8]} yTicks={svhnNlsTicks} rows={nlsRows(0, svhnNls)}
        box={{ x: 492.7, y: 605, w: 46.3, h: 15 }}
      />
      <NlsPanel
        r={{ x0: 717.3, y0: 449, x1: 980.7, y1: 581 }} xDomain={[1198.9, 1297]} xTicks={xTicksCifar}
        yDomain={[94.88, 98.0]} yTicks={cifarNlsTicks} rows={nlsRows(1200, cifarNls)}
        box={{ x: 826.7, y: 605, w: 45.3, h: 15 }}
      />

      {/* Titles and axis labels */}
      <Txt x={181.7} y={55.7} size={TS}>{titles[0]}</Txt>
      <Txt x={510} y={55.7} size={TS}>{titles[1]}</Txt>
      <Txt x={840} y={55.7} size={TS}>{titles[2]}</Txt>
      <Txt x={13.3} y={130} size={LS} rot>Eigenvalues</Txt>
      <Txt x={343} y={130} size={LS} rot>Eigenvalues</Txt>
      <Txt x={672} y={130} size={LS} rot>Eigenvalues</Txt>
      <Txt x={181} y={215.7} size={LS}>Iteration</Txt>
      <Txt x={509.3} y={215.7} size={LS}>Iteration</Txt>
      <Txt x={840} y={215.7} size={LS}>Iteration</Txt>

      <Txt x={183.3} y={236} size={TS}>{titles[0]}</Txt>
      <Txt x={511.7} y={236} size={TS}>{titles[1]}</Txt>
      <Txt x={840} y={236} size={TS}>{titles[2]}</Txt>
      <Txt x={15} y={311.7} size={LS} rot>Layer-wise Grad Norm</Txt>
      <Txt x={343.3} y={311.7} size={LS} rot>Layer-wise Grad Norm</Txt>
      <Txt x={671.7} y={311.7} size={LS} rot>Layer-wise Grad Norm</Txt>
      <Txt x={183.3} y={398.3} size={LS}>Iteration</Txt>
      <Txt x={511.7} y={398.3} size={LS}>Iteration</Txt>
      <Txt x={840} y={398.3} size={LS}>Iteration</Txt>

      <Txt x={186.7} y={437.7} size={TS}>{titles[0]}</Txt>
      <Txt x={515.7} y={437.7} size={TS}>{titles[1]}</Txt>
      <Txt x={849} y={443.3} size={TS}>{titles[2]}</Txt>
      <Txt x={15} y={511.7} size={LS} rot>Zero Activations (%)</Txt>
      <Txt x={342.7} y={520} size={LS} rot>Zero Activations (%)</Txt>
      <Txt x={670} y={513.3} size={LS} rot>Zero Activations (%)</Txt>
      <Txt x={186.7} y={595.7} size={LS}>Iteration</Txt>
      <Txt x={515.7} y={595.7} size={LS}>Iteration</Txt>
      <Txt x={849} y={597.3} size={LS}>Iteration</Txt>
    </div>
  );
}
